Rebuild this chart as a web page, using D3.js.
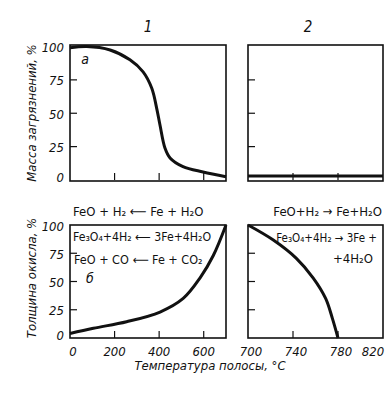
<!DOCTYPE html>
<html><head><meta charset="utf-8">
<script src="https://cdn.jsdelivr.net/npm/d3@7"></script>
<style>
body{margin:0;background:#fff;}
svg text{font-family:"DejaVu Sans Condensed","Liberation Sans Narrow","DejaVu Sans",sans-serif;fill:#111;}
</style></head>
<body><svg id="c" width="390" height="394"></svg>
<script>
// ---- data ----
const massTempLow = [0, 75, 180, 269, 328, 367, 389, 404, 426, 449, 507, 597, 700];
const massLow     = [99, 100, 97.4, 90, 81, 68.7, 53.7, 41, 24, 16.5, 10, 6, 2.5];
const massTempHigh = [700, 820];
const massHigh     = [3, 3];
const oxideTempLow = [0, 105, 254, 404, 508, 583, 643, 700];
const oxideLow     = [4, 8.6, 14.4, 23, 35, 53, 73, 100];
const oxideTempHigh = [700, 722.5, 743, 758, 769, 775, 780];
const oxideHigh     = [100, 86.7, 70.5, 53, 35, 17.4, 0];
const yTicks = [100, 75, 50, 25, 0];
const xTicksLow = [0, 200, 400, 600];
const xTicksHigh = [700, 740, 780, 820];

const svg = d3.select("#c");
const xL = d3.scaleLinear().domain([0, 700]).range([70, 226]);
const xR = d3.scaleLinear().domain([700, 820]).range([248, 383]);
const yTop = d3.scaleLinear().domain([0, 100]).range([180, 46.5]);
const yBot = d3.scaleLinear().domain([0, 100]).range([338, 225]);

function box(x, y, yTopPx, yBotPx){
  svg.append("rect").attr("x", x.range()[0]).attr("y", yTopPx)
    .attr("width", x.range()[1]-x.range()[0]).attr("height", yBotPx-yTopPx)
    .attr("fill","none").attr("stroke","#111").attr("stroke-width",1.6);
}
function ticks(x, y, xt){
  const x0 = x.range()[0];
  [75,50,25].forEach(v=>{
    svg.append("line").attr("x1",x0).attr("x2",x0+7).attr("y1",y(v)).attr("y2",y(v))
      .attr("stroke","#111").attr("stroke-width",1.2);
  });
  xt.forEach(v=>{
    svg.append("line").attr("x1",x(v)).attr("x2",x(v)).attr("y1",y(0)).attr("y2",y(0)-7)
      .attr("stroke","#111").attr("stroke-width",1.2);
  });
}
box(xL, yTop, 45, 181); ticks(xL, yTop, [200,400,600]);
box(xR, yTop, 45, 181); ticks(xR, yTop, [740,780]);
box(xL, yBot, 225, 338); ticks(xL, yBot, [200,400,600]);
box(xR, yBot, 225, 338); ticks(xR, yBot, [740,780]);

function curve(x, y, xs, ys){
  const pts = xs.map((t,i)=>[t, ys[i]]);
  svg.append("path").datum(pts)
    .attr("d", d3.line().x(d=>x(d[0])).y(d=>y(d[1])).curve(d3.curveCatmullRom.alpha(0.5)))
    .attr("fill","none").attr("stroke","#111").attr("stroke-width",3);
}
curve(xL, yTop, massTempLow, massLow);
curve(xR, yTop, massTempHigh, massHigh);
curve(xL, yBot, oxideTempLow, oxideLow);
curve(xR, yBot, oxideTempHigh, oxideHigh);

// y tick labels
function yLabels(y){
  yTicks.forEach(v=>{
    svg.append("text").attr("x",64).attr("y",y(v)+(v===0?-3:1)).attr("dy","0.35em")
      .attr("text-anchor","end").attr("font-size",13).attr("font-style","italic").text(v);
  });
}
yLabels(yTop); yLabels(yBot);

// x tick labels
xTicksLow.forEach(v=>{
  svg.append("text").attr("x",Math.max(xL(v),73)).attr("y",356).attr("text-anchor","middle")
    .attr("font-size",13).attr("font-style","italic").text(v);
});
xTicksHigh.forEach(v=>{
  svg.append("text").attr("x",Math.min(xR(v)+3,373)).attr("y",356).attr("text-anchor","middle")
    .attr("font-size",13).attr("font-style","italic").text(v);
});

// axis titles
svg.append("text").attr("x",210).attr("y",370).attr("text-anchor","middle")
  .attr("font-size",13).attr("font-style","italic").text("Температура полосы, °C");
svg.append("text").attr("transform","translate(36,113) rotate(-90)").attr("text-anchor","middle")
  .attr("font-size",13).attr("font-style","italic").text("Масса загрязнений, %");
svg.append("text").attr("transform","translate(36,278) rotate(-90)").attr("text-anchor","middle")
  .attr("font-size",13).attr("font-style","italic").text("Толщина окисла, %");

// panel numbers and letters
svg.append("text").attr("x",148).attr("y",32).attr("text-anchor","middle")
  .attr("font-size",15).attr("font-style","italic").text("1");
svg.append("text").attr("x",308).attr("y",32).attr("text-anchor","middle")
  .attr("font-size",15).attr("font-style","italic").text("2");
svg.append("text").attr("x",85).attr("y",64).attr("text-anchor","middle")
  .attr("font-size",14).attr("font-style","italic").text("а");
svg.append("text").attr("x",90).attr("y",283).attr("text-anchor","middle")
  .attr("font-size",14).attr("font-style","italic").text("б");

// reactions
function rx(x, y, txt, anchor, size){
  svg.append("text").attr("x",x).attr("y",y).attr("text-anchor",anchor||"start")
    .attr("font-size",size||13).text(txt);
}
rx(73, 216, "FeO + H₂ ⟵ Fe + H₂O");
rx(382, 216, "FeO+H₂ → Fe+H₂O", "end");
rx(73, 241, "Fe₃O₄+4H₂ ⟵ 3Fe+4H₂O", "start", 12.2);
rx(74, 264, "FeO + CO ⟵ Fe + CO₂", "start", 12.5);
rx(377, 242, "Fe₃O₄+4H₂ → 3Fe +", "end", 11.5);
rx(373, 263, "+4H₂O", "end");
</script></body></html>
